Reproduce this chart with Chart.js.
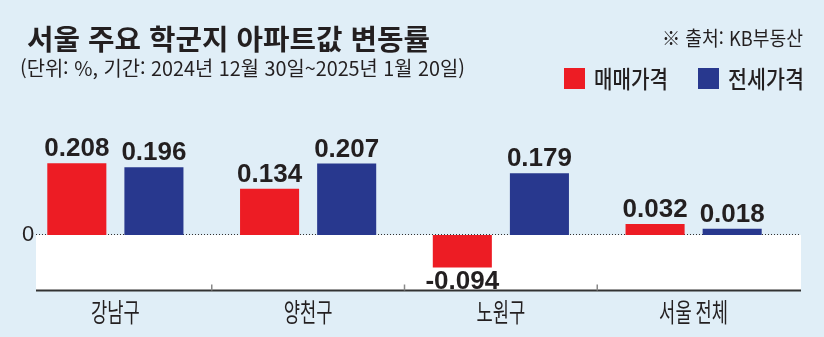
<!DOCTYPE html>
<html lang="ko">
<head>
<meta charset="utf-8">
<script src="https://cdn.jsdelivr.net/npm/chart.js@4.4.1/dist/chart.umd.min.js"></script>
<style>
  html,body{margin:0;padding:0;background:#e0eef7;}
  #wrap{position:relative;width:824px;height:337px;overflow:hidden;background:#e0eef7;}
  #c{position:absolute;left:0;top:0;}
  .t{position:absolute;white-space:nowrap;display:inline-block;transform-origin:0 50%;color:#231f20;font-family:"Noto Sans CJK KR","Noto Sans",sans-serif;}
  .box{position:absolute;}
</style>
</head>
<body>
<div id="wrap">
  <canvas id="c" width="824" height="337" style="width:824px;height:337px"></canvas>
  <span class="t" id="title" style="font-weight:700;font-size:28px;line-height:28px;">서울 주요 학군지 아파트값 변동률</span>
  <span class="t" id="sub" style="font-size:20px;line-height:20px;font-family:'Liberation Sans Narrow','Noto Sans CJK KR',sans-serif;">(단위: %, 기간: 2024년 12월 30일~2025년 1월 20일)</span>
  <span class="t" id="src" style="font-size:20px;line-height:20px;">※ 출처: KB부동산</span>
  <div id="legend"></div>
</div>
<script>
// ---- data ----
const categories = ['강남구', '양천구', '노원구', '서울 전체'];
const seriesNames = ['매매가격', '전세가격'];
const salePrice = [0.208, 0.134, -0.094, 0.032];
const jeonsePrice = [0.196, 0.207, 0.179, 0.018];
const yTicks = [0];

const RED = '#ed1c24';
const BLUE = '#28388e';

const decor = {
  id: 'decor',
  beforeDatasetsDraw(chart) {
    const {ctx, chartArea: a, scales: {x, y}} = chart;
    const z = y.getPixelForValue(0);
    const L = a.left + 17, R = a.right + 11;
    ctx.save();
    ctx.fillStyle = '#ffffff';
    ctx.fillRect(L, z, R - L, a.bottom - z);
    ctx.strokeStyle = '#333';
    ctx.lineWidth = 1;
    ctx.setLineDash([1, 2]);
    ctx.beginPath();
    ctx.moveTo(L, Math.round(z) - 0.5);
    ctx.lineTo(R, Math.round(z) - 0.5);
    ctx.stroke();
    ctx.setLineDash([]);
    ctx.strokeStyle = '#333';
    ctx.lineWidth = 2;
    ctx.beginPath();
    ctx.moveTo(L, a.bottom);
    ctx.lineTo(R, a.bottom);
    ctx.stroke();
    ctx.strokeStyle = '#888';
    ctx.lineWidth = 1.5;
    for (let i = 0; i < categories.length - 1; i++) {
      const xx = (x.getPixelForValue(i) + x.getPixelForValue(i + 1)) / 2;
      ctx.beginPath();
      ctx.moveTo(xx, a.bottom - 6);
      ctx.lineTo(xx, a.bottom);
      ctx.stroke();
    }
    ctx.fillStyle = '#231f20';
    ctx.font = '22px "Liberation Sans Narrow", "Liberation Sans", sans-serif';
    ctx.textAlign = 'left';
    ctx.textBaseline = 'middle';
    yTicks.forEach(v => ctx.fillText(String(v), a.left + 3, y.getPixelForValue(v)));
    ctx.restore();
  },
  afterDatasetsDraw(chart) {
    const {ctx, chartArea: a, scales: {x}} = chart;
    ctx.save();
    ctx.fillStyle = '#231f20';
    ctx.font = 'bold 26px "Liberation Sans Narrow", "Liberation Sans", sans-serif';
    ctx.textAlign = 'center';
    chart.data.datasets.forEach((ds, di) => {
      const meta = chart.getDatasetMeta(di);
      meta.data.forEach((bar, i) => {
        const v = ds.data[i];
        const txt = v.toFixed(3);
        ctx.textBaseline = 'alphabetic';
        if (v >= 0) {
          ctx.fillText(txt, bar.x, bar.y - 7);
        } else {
          ctx.fillText(txt, bar.x, bar.y + 3 + 19);
        }
      });
    });
    ctx.font = '26px "Noto Sans CJK KR", sans-serif';
    ctx.textBaseline = 'middle';
    categories.forEach((c, i) => {
      ctx.save();
      ctx.translate(x.getPixelForValue(i), a.bottom + 22);
      ctx.scale(0.68, 1);
      ctx.fillText(c, 0, 0);
      ctx.restore();
    });
    ctx.restore();
  }
};

const chart = new Chart(document.getElementById('c'), {
  type: 'bar',
  data: {
    labels: categories,
    datasets: [
      {label: seriesNames[0], data: salePrice, backgroundColor: RED, borderWidth: 0},
      {label: seriesNames[1], data: jeonsePrice, backgroundColor: BLUE, borderWidth: 0}
    ]
  },
  options: {
    responsive: false,
    animation: false,
    devicePixelRatio: 1,
    layout: {padding: {left: 19, right: 34, top: 100, bottom: 0}},
    datasets: {bar: {categoryPercentage: 0.8, barPercentage: 0.766}},
    plugins: {legend: {display: false}, title: {display: false}, tooltip: {enabled: false}},
    scales: {
      x: {
        grid: {display: false, drawTicks: false},
        border: {display: false},
        ticks: {display: false},
        afterFit(s) { s.height = 46.5; }
      },
      y: {
        display: false,
        min: -0.161,
        max: 0.391
      }
    }
  },
  plugins: [decor]
});

// ---- HTML legend built from datasets ----
const legend = document.getElementById('legend');
const legendPos = [{bx: 564, tx: 594, w: 74}, {bx: 698, tx: 728, w: 76}];
chart.data.datasets.forEach((ds, i) => {
  const b = document.createElement('div');
  b.className = 'box';
  b.style.cssText = `left:${legendPos[i].bx}px;top:68px;width:21px;height:21px;background:${ds.backgroundColor};`;
  legend.appendChild(b);
  const t = document.createElement('span');
  t.className = 't';
  t.textContent = ds.label;
  t.style.cssText = `left:${legendPos[i].tx}px;top:${79 - 12}px;font-size:24px;line-height:24px;font-weight:500;`;
  legend.appendChild(t);
});

function place(el, left, cy, w, fs) {
  el.style.left = left + 'px';
  el.style.top = (cy - fs / 2) + 'px';
  el.style.transform = 'none';
  const r = el.getBoundingClientRect().width;
  el.style.transform = `scaleX(${w / r})`;
}
function layoutText() {
  place(document.getElementById('title'), 27, 38, 403, 28);
  place(document.getElementById('sub'), 20, 68, 445, 20);
  place(document.getElementById('src'), 662, 38, 141, 20);
  legend.querySelectorAll('.t').forEach((t, i) => place(t, legendPos[i].tx, 78, legendPos[i].w, 24));
}
layoutText();
if (document.fonts && document.fonts.ready) document.fonts.ready.then(layoutText);
</script>
</body>
</html>
